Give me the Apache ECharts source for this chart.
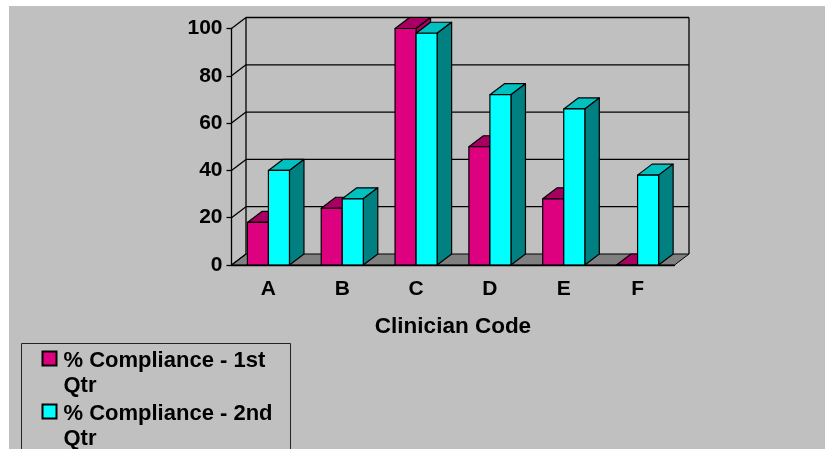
<!DOCTYPE html>
<html><head><meta charset="utf-8">
<style>html,body{margin:0;padding:0;background:#fff}#c{width:825px;height:449px}</style>
<script src="https://cdn.jsdelivr.net/npm/echarts@6/dist/echarts.min.js"></script>
</head><body><div id="c"></div>
<script>
const categories = ['A','B','C','D','E','F'];
const q1Name = '% Compliance - 1st Qtr';
const q2Name = '% Compliance - 2nd Qtr';
const q1Values = [18,24,100,50,28,0];
const q2Values = [40,28,98,72,66,38];
const yTicks = [0,20,40,60,80,100];

const DX = 14.5, DY = -11;
const FONT = '"Liberation Sans", Arial, sans-serif';
const line = {stroke:'#000',lineWidth:1.3,fill:null};
const legendIcon = 'path://M0 7H14V21H0Z M0 51L0 51';
const chart = echarts.init(document.getElementById('c'),null,{renderer:'canvas'});

function barRender(seriesIdx, front, top, side){
  return function(params, api){
    const cat = api.value(0), val = api.value(1);
    const base = api.coord([cat,0]), tip = api.coord([cat,val]);
    const w = api.size([1,0])[0]*0.285;
    const x0 = base[0] + (seriesIdx===0 ? -w : 0), x1 = x0 + w;
    const yb = base[1], yt = tip[1];
    const st = c => ({fill:c,stroke:'#000',lineWidth:1.2,lineJoin:'round'});
    return {type:'group',children:[
      {type:'polygon',shape:{points:[[x0,yt],[x1,yt],[x1+DX,yt+DY],[x0+DX,yt+DY]]},style:st(top)},
      {type:'polygon',shape:{points:[[x1,yb],[x1+DX,yb+DY],[x1+DX,yt+DY],[x1,yt]]},style:st(side)},
      {type:'rect',shape:{x:x0,y:yt,width:w,height:yb-yt},style:st(front)}
    ]};
  };
}

function wallRender(params, api){
  const v = api.value(0);
  const band = api.size([1,0])[0];
  const n = categories.length - 1;
  const y = api.coord([0,v])[1], y0 = api.coord([0,0])[1];
  const lx = api.coord([0,v])[0] - band/2, rx = api.coord([n,v])[0] + band/2;
  const children = [];
  if (v === 0) {
    children.push({type:'polygon',shape:{points:[[lx,y],[rx,y],[rx+DX,y+DY],[lx+DX,y+DY]]},
      style:{fill:'#808080',stroke:'#000',lineWidth:1}});
  } else {
    children.push({type:'line',shape:{x1:lx+DX,y1:y+DY,x2:rx+DX,y2:y+DY},style:line});
  }
  children.push({type:'line',shape:{x1:lx,y1:y,x2:lx+DX,y2:y+DY},style:line});
  if (v === 100) {
    children.push({type:'line',shape:{x1:lx+DX,y1:y+DY,x2:lx+DX,y2:y0+DY},style:line});
    children.push({type:'line',shape:{x1:rx+DX,y1:y+DY,x2:rx+DX,y2:y0+DY},style:line});
  }
  return {type:'group',children};
}

chart.setOption({
  animation:false,
  backgroundColor:'#ffffff',
  graphic:[{type:'rect',z:-10,silent:true,shape:{x:9,y:6,width:816,height:443},style:{fill:'#c0c0c0'}}],
  grid:{left:231.5,top:28.5,width:443,height:236.5,containLabel:false},
  legend:{
    orient:'vertical',left:21.5,top:343.5,height:140,
    data:[q1Name,q2Name],
    itemWidth:14,itemHeight:51,itemGap:2,
    padding:[4.5,18,6,20],
    borderColor:'#222',borderWidth:1,
    icon:legendIcon,
    selectedMode:false,
    formatter:n=>n.replace(' Qtr','\nQtr'),
    textStyle:{fontFamily:FONT,fontWeight:'bold',fontSize:22,color:'#000',lineHeight:25.5,padding:[0,0,0,2]}
  },
  xAxis:{
    type:'category',data:categories,
    name:'Clinician Code',nameLocation:'middle',nameGap:50,
    nameTextStyle:{fontFamily:FONT,fontWeight:'bold',fontSize:22.5,color:'#000'},
    axisLine:{lineStyle:{color:'#000',width:1.3}},
    axisTick:{length:5,lineStyle:{color:'#000',width:1.3}},
    axisLabel:{fontFamily:FONT,fontWeight:'bold',fontSize:21,color:'#000',margin:14},
    z:5
  },
  yAxis:{
    type:'value',min:0,max:100,interval:20,
    splitLine:{show:false},
    axisLine:{show:true,lineStyle:{color:'#000',width:1.3}},
    axisTick:{show:true,length:5,lineStyle:{color:'#000',width:1.3}},
    axisLabel:{fontFamily:FONT,fontWeight:'bold',fontSize:21,color:'#000',margin:9}
  },
  series:[
    {type:'custom',name:'walls',coordinateSystem:'cartesian2d',z:1,silent:true,
     data:yTicks.map(v=>[v]),encode:{y:0},renderItem:wallRender},
    {type:'custom',name:q1Name,coordinateSystem:'cartesian2d',z:2,
     itemStyle:{color:'#dd007f',borderColor:'#000',borderWidth:1},
     data:q1Values.map((v,i)=>[i,v]),encode:{x:0,y:1},
     renderItem:barRender(0,'#dd007f','#a80060','#a80060')},
    {type:'custom',name:q2Name,coordinateSystem:'cartesian2d',z:3,
     itemStyle:{color:'#00ffff',borderColor:'#000',borderWidth:1},
     data:q2Values.map((v,i)=>[i,v]),encode:{x:0,y:1},
     renderItem:barRender(1,'#00ffff','#00c0c0','#008080')}
  ]
});
</script></body></html>
